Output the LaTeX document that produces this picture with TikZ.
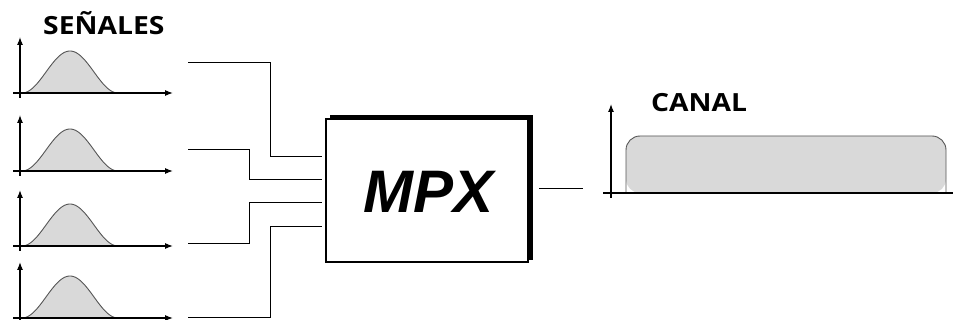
\documentclass[tikz,border=0pt]{standalone}
\usepackage{fontspec}
\setmainfont{Open Sans}
\newfontfamily\mpxfont{Liberation Sans}
\usetikzlibrary{arrows.meta}
\definecolor{sig}{HTML}{D9D9D9}
\definecolor{sigline}{HTML}{555555}
\tikzset{
  axis/.style={line width=1.1pt, -{Latex[length=8pt,width=6pt]}},
  axisplain/.style={line width=1.1pt},
  wire/.style={line width=1pt},
  title/.style={font=\bfseries\fontsize{25}{25}\selectfont, inner sep=0pt, anchor=base west},
}
\begin{document}
\begin{tikzpicture}[x=1pt,y=-1pt]
\useasboundingbox (0,0) rectangle (954,320);
% title
\node[title] (senales) at (43,35) {\scalebox{1.13}[1]{SEÑALES}};
% signal graphs
\foreach \i/\a in {1/93, 2/171, 3/246, 4/318}{
  \fill[sig] plot[domain=-48:48, samples=80] ({70+\x},{\a-42*(1+cos(180*\x/48))/2}) -- cycle;
  \draw[sigline, line width=0.9pt] plot[domain=-48:48, samples=80] ({70+\x},{\a-42*(1+cos(180*\x/48))/2});
  \coordinate (o\i) at (20,\a);
  \draw[axis] (13,\a) -- (173,\a);
  \draw[axis] (20,\a+5) -- (20,\a-56);
}
% MPX box with shadow
\draw[line width=4pt] (330,117) -- (531,117) -- (531,260);
\node[draw, line width=1.2pt, fill=white, minimum width=202pt, minimum height=143pt, inner sep=0pt] (mpx) at (427,190.5) {};
\node[font=\mpxfont\bfseries\itshape\fontsize{60}{60}\selectfont, inner sep=0pt] (mpxlabel) at (429,192) {MPX};
% input wire coordinates
\coordinate (s1) at (188,63);
\coordinate (s2) at (188,150);
\coordinate (s3) at (188,244);
\coordinate (s4) at (188,318);
\coordinate (in1) at (322,157);
\coordinate (in2) at (322,180);
\coordinate (in3) at (322,203);
\coordinate (in4) at (322,227);
\coordinate (j1) at (270,157);
\coordinate (j2) at (249,180);
\coordinate (j3) at (249,203);
\coordinate (j4) at (270,227);
\draw[wire] (s1) -| (j1) -- (in1);
\draw[wire] (s2) -| (j2) -- (in2);
\draw[wire] (s3) -| (j3) -- (in3);
\draw[wire] (s4) -| (j4) -- (in4);
% output
\coordinate (out) at (539,189);
\coordinate (outend) at (583,189);
\draw[wire] (out) -- (outend);
% channel
\fill[sig, rounded corners=14pt] (626,193) -- (626,136) -- (946,136) -- (946,193) -- cycle;
\draw[sigline, line width=0.9pt, rounded corners=14pt] (626,193) -- (626,136) -- (946,136) -- (946,193);
\draw[axisplain] (603,193) -- (953,193);
\draw[axis] (611,198) -- (611,104);
\node[title] (canal) at (651,112) {\scalebox{1.13}[1]{CANAL}};
\end{tikzpicture}
\end{document}
